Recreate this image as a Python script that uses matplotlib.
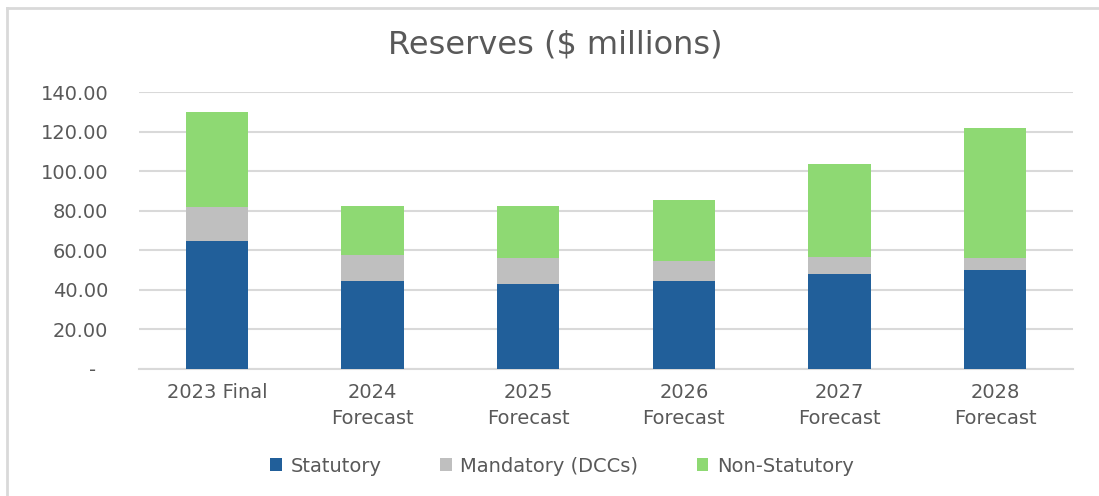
import matplotlib
matplotlib.use("Agg")
import matplotlib.pyplot as plt
from matplotlib.lines import Line2D
from matplotlib.ticker import FuncFormatter, MultipleLocator
import numpy as np

categories = ["2023 Final", "2024\nForecast", "2025\nForecast", "2026\nForecast", "2027\nForecast", "2028\nForecast"]
statutory = [64.5, 44.6, 43.0, 44.6, 48.0, 50.2]
mandatory = [17.5, 13.2, 13.1, 10.0, 8.6, 6.1]
non_statutory = [48.1, 24.7, 26.4, 30.8, 47.0, 65.5]
series_names = ["Statutory", "Mandatory (DCCs)", "Non-Statutory"]
colors = ["#215F9A", "#BFBFBF", "#8ED973"]

plt.rcParams['font.family'] = ['DejaVu Sans']
text_color = "#595959"

fig = plt.figure(figsize=(10.99, 4.96), dpi=100)
ax = fig.add_axes([139/1099, 1-369/496, (1073-139)/1099, (369-92)/496])

x = np.arange(len(categories))
w = 0.4
s = np.array(statutory); m = np.array(mandatory); n = np.array(non_statutory)
ax.bar(x, s, w, color=colors[0], label=series_names[0], zorder=3)
ax.bar(x, m, w, bottom=s, color=colors[1], label=series_names[1], zorder=3)
ax.bar(x, n, w, bottom=s+m, color=colors[2], label=series_names[2], zorder=3)

ax.set_xlim(-0.5, len(categories)-0.5)
ax.set_ylim(0, 140)
ax.yaxis.set_major_locator(MultipleLocator(20))
ax.yaxis.set_major_formatter(FuncFormatter(lambda v, p: "-  " if abs(v) < 1e-9 else f"{v:.2f}"))
ax.grid(axis='y', color="#D9D9D9", linewidth=1.5, zorder=0)
for sp in ["top", "right", "left"]:
    ax.spines[sp].set_visible(False)
ax.spines["bottom"].set_color("#D9D9D9")
ax.spines["bottom"].set_linewidth(1.5)
ax.tick_params(axis='both', length=0, colors=text_color, labelsize=14)
ax.tick_params(axis='y', pad=22)
ax.tick_params(axis='x', pad=10)
ax.set_xticks(x)
ax.set_xticklabels(categories, linespacing=1.45)

fig.text(555/1099, 1-45/496, "Reserves ($ millions)", ha='center', va='center', fontsize=23, color=text_color)

leg = fig.legend(loc='center', bbox_to_anchor=(562/1099, 1-466/496), ncol=3, frameon=False,
                 fontsize=14, handlelength=0.6, handleheight=0.6, handletextpad=0.45, columnspacing=3.0)
for t in leg.get_texts():
    t.set_color(text_color)

fig.add_artist(Line2D([7/1099, 1], [1-8/496, 1-8/496], transform=fig.transFigure, color="#D9D9D9", linewidth=2))
fig.add_artist(Line2D([7/1099, 7/1099], [0, 1-8/496], transform=fig.transFigure, color="#D9D9D9", linewidth=2))

fig.savefig("out.png", dpi=100)
